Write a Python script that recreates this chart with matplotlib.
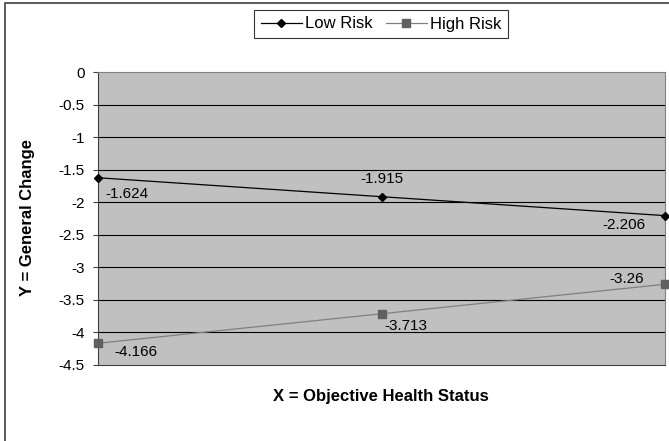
import numpy as np
import matplotlib.pyplot as plt
from matplotlib.patches import Rectangle
from matplotlib.ticker import FixedLocator, FuncFormatter

# ----------------------------
# Data
# ----------------------------
health_levels = [1, 2, 3]          # low / mid / high objective health status
low_risk = [-1.624, -1.915, -2.206]
high_risk = [-4.166, -3.713, -3.26]
y_ticks = [0, -0.5, -1, -1.5, -2, -2.5, -3, -3.5, -4, -4.5]

# label offsets (points) for each data label
low_offsets = [(5, -12), (0, 13), (-14, -7)]
low_align = ["left", "center", "right"]
high_offsets = [(12, -6.5), (2, -8.5), (-15, 4)]
high_align = ["left", "left", "right"]

plt.rcParams["font.family"] = ["Liberation Sans", "DejaVu Sans"]

W, H, DPI = 669, 441, 100
fig = plt.figure(figsize=(W / DPI, H / DPI), dpi=DPI)
fig.patch.set_facecolor("white")


def fx(px):
    return px / W


def fy(py):
    return 1 - py / H


# plot area
ax = fig.add_axes([fx(98), fy(365), fx(665) - fx(98), fy(72) - fy(365)])
ax.set_facecolor("#c0c0c0")

ax.plot(health_levels, low_risk, color="black", lw=0.9, marker="D",
        markersize=4.5, markerfacecolor="black", markeredgecolor="black",
        label="Low Risk", zorder=4, clip_on=False)
ax.plot(health_levels, high_risk, color="#808080", lw=0.9, marker="s",
        markersize=5.5, markerfacecolor="#606060", markeredgecolor="#606060",
        label="High Risk", zorder=4, clip_on=False)

for xv, yv, off, ha in zip(health_levels, low_risk, low_offsets, low_align):
    ax.annotate(f"{yv:g}", (xv, yv), xytext=off, textcoords="offset points",
                ha=ha, va="center", fontsize=11, color="black", zorder=5)
for xv, yv, off, ha in zip(health_levels, high_risk, high_offsets, high_align):
    ax.annotate(f"{yv:g}", (xv, yv), xytext=off, textcoords="offset points",
                ha=ha, va="center", fontsize=11, color="black", zorder=5)

ax.set_xlim(1, 3)
ax.set_ylim(-4.5, 0)
ax.yaxis.set_major_locator(FixedLocator(y_ticks))
ax.yaxis.set_major_formatter(FuncFormatter(lambda v, p: f"{v:g}"))
ax.set_xticks([])
ax.tick_params(axis="y", direction="out", length=3.6, width=0.8,
               color="#404040", pad=6, labelsize=11)

for yv in y_ticks[1:-1]:
    ax.axhline(yv, color="black", lw=0.8, zorder=1)

for side in ["top", "right"]:
    ax.spines[side].set_color("#808080")
    ax.spines[side].set_linewidth(0.8)
for side in ["left", "bottom"]:
    ax.spines[side].set_color("#404040")
    ax.spines[side].set_linewidth(0.8)

# legend box above the plot
leg = fig.legend(loc="center", bbox_to_anchor=(fx(381), fy(24)), ncol=2,
                 fontsize=12, frameon=True, fancybox=False, shadow=False,
                 handlelength=2.45, handletextpad=0.18, columnspacing=0.8,
                 borderpad=0.4)
leg.get_frame().set_edgecolor("black")
leg.get_frame().set_linewidth(0.8)

fig.text(fx(381), fy(397), "X = Objective Health Status", ha="center",
         va="center", fontsize=12, fontweight="bold")
fig.text(fx(28), fy(218), "Y = General Change", ha="center", va="center",
         rotation=90, fontsize=12, fontweight="bold")

# chart frame (top and left edges visible)
fig.patches.append(Rectangle((fx(5), -0.05), 1.2, fy(3) + 0.05,
                             transform=fig.transFigure, fill=False,
                             edgecolor="#404040", lw=1.2))

fig.savefig("out.png", dpi=DPI)
